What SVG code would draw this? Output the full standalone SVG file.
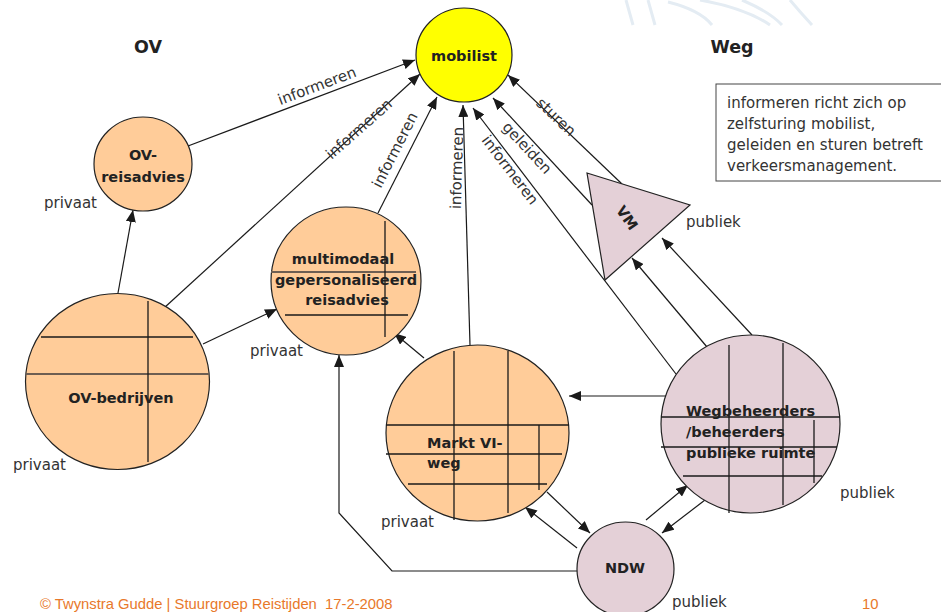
<svg xmlns="http://www.w3.org/2000/svg" width="941" height="612" viewBox="0 0 941 612">
<defs>
<marker id="ah" viewBox="0 0 12 10" refX="12" refY="5" markerWidth="12" markerHeight="10" markerUnits="userSpaceOnUse" orient="auto">
<path d="M0,0 L12,5 L0,10 z" fill="#1a1a1a"/>
</marker>
<style>
.or{fill:#FFCC99;stroke:#222;stroke-width:1.2}
.pk{fill:#E4D0D7;stroke:#222;stroke-width:1.2}
.yl{fill:#FFFF00;stroke:#222;stroke-width:1.2}
.gl{stroke:#1a1a1a;stroke-width:1.3;fill:none}
.gb{stroke:#6e5e52;stroke-width:2;fill:none}
.cn{stroke:#1a1a1a;stroke-width:1.2;fill:none;marker-end:url(#ah)}
.ln{stroke:#1a1a1a;stroke-width:1.2;fill:none}
.b{font-family:"DejaVu Sans",sans-serif;font-weight:bold;font-size:14.5px;fill:#222}
.h{font-family:"DejaVu Sans",sans-serif;font-weight:bold;font-size:17.5px;fill:#222}
.r{font-family:"DejaVu Sans",sans-serif;font-size:15px;fill:#333}
.lb{font-family:"DejaVu Sans",sans-serif;font-size:15px;fill:#333;dominant-baseline:central;text-anchor:middle}
.ft{font-family:"Liberation Sans",Arial,sans-serif;font-size:14.8px;fill:#E8782A;white-space:pre}
.bg{stroke:#e4ecf3;stroke-width:3;fill:none}
</style>
</defs>
<rect width="941" height="612" fill="#ffffff"/>
<g id="background">
<path class="bg" d="M626,0 L633,25 M648,0 L655,25 M668,2 Q700,10 712,25 M700,0 Q745,8 770,25 M742,0 Q770,12 782,25 M790,0 Q800,12 812,25"/>
</g>
<g id="headers">
<text class="h" x="148" y="53" text-anchor="middle">OV</text>
<text class="h" x="732" y="53" text-anchor="middle">Weg</text>
</g>
<g id="connectors">
<line class="cn" x1="188" y1="146" x2="415" y2="60"/>
<line class="cn" x1="164" y1="308" x2="420" y2="74"/>
<line class="cn" x1="378" y1="213" x2="437" y2="97"/>
<line class="cn" x1="470" y1="345" x2="463" y2="105"/>
<line class="cn" x1="676" y1="374" x2="473" y2="108"/>
<line class="cn" x1="592" y1="205" x2="493" y2="98"/>
<line class="cn" x1="622" y1="184" x2="508" y2="75"/>
<line class="cn" x1="118" y1="293" x2="133" y2="210"/>
<line class="cn" x1="203" y1="344" x2="277" y2="309"/>
<line class="cn" x1="424" y1="358" x2="394" y2="333"/>
<line class="cn" x1="666" y1="396" x2="569" y2="396"/>
<polyline class="cn" points="577,571 392,571 339,513 339,355"/>
<line class="cn" x1="547" y1="492" x2="590" y2="533"/>
<line class="cn" x1="577" y1="548" x2="525" y2="507"/>
<line class="cn" x1="646" y1="520" x2="688" y2="485"/>
<line class="cn" x1="705" y1="500" x2="662" y2="533"/>
<line class="cn" x1="707" y1="347" x2="632" y2="258"/>
<line class="cn" x1="752" y1="335" x2="662" y2="238"/>
<text class="lb" transform="translate(317,86) rotate(-20.8)">informeren</text>
<text class="lb" transform="translate(359,129) rotate(-41.5)">informeren</text>
<text class="lb" transform="translate(395,150) rotate(-63)">informeren</text>
<text class="lb" transform="translate(457,168) rotate(-88.3)">informeren</text>
<text class="lb" transform="translate(510,170) rotate(52.6)">informeren</text>
<text class="lb" transform="translate(527,148) rotate(47.2)">geleiden</text>
<text class="lb" transform="translate(556,117) rotate(43.5)">sturen</text>
</g>
<g id="mobilist">
<ellipse class="yl" cx="464" cy="55" rx="48" ry="47"/>
<text class="b" x="464" y="61" text-anchor="middle">mobilist</text>
</g>
<g id="ov-reisadvies">
<ellipse class="or" cx="143" cy="164" rx="49" ry="47"/>
<text class="b" x="143" y="160" text-anchor="middle">OV-</text>
<text class="b" x="143" y="182" text-anchor="middle">reisadvies</text>
</g>
<g id="ov-bedrijven">
<ellipse class="or" cx="117.5" cy="381.5" rx="92" ry="88"/>
<line class="gl" x1="41" y1="337" x2="193" y2="337"/>
<line class="gb" x1="26" y1="374" x2="209" y2="374"/>
<line class="gl" x1="148" y1="301" x2="148" y2="462"/>
<text class="b" x="121" y="403" text-anchor="middle">OV-bedrijven</text>
</g>
<g id="multimodaal">
<ellipse class="or" cx="346" cy="281" rx="75" ry="74"/>
<line class="gb" x1="271" y1="272" x2="416" y2="272"/>
<line class="gl" x1="285" y1="315" x2="408" y2="315"/>
<line class="gl" x1="385" y1="221" x2="385" y2="337"/>
<text class="b" x="343" y="264" text-anchor="middle">multimodaal</text>
<text class="b" x="346" y="285" text-anchor="middle">gepersonaliseerd</text>
<text class="b" x="347" y="305" text-anchor="middle">reisadvies</text>
</g>
<g id="markt-vi-weg">
<ellipse class="or" cx="477.5" cy="433" rx="91.5" ry="88"/>
<line class="gl" x1="454" y1="351" x2="454" y2="520"/>
<line class="gl" x1="508" y1="351" x2="508" y2="513"/>
<line class="gl" x1="539" y1="425" x2="539" y2="490"/>
<line class="gl" x1="386" y1="425" x2="569" y2="425"/>
<line class="gl" x1="386" y1="454" x2="562" y2="454"/>
<line class="gl" x1="408" y1="484" x2="547" y2="484"/>
<text class="b" x="427" y="448">Markt VI-</text>
<text class="b" x="427" y="468">weg</text>
</g>
<g id="wegbeheerders">
<ellipse class="pk" cx="750.5" cy="424" rx="89.5" ry="89"/>
<line class="gl" x1="729" y1="345" x2="729" y2="513"/>
<line class="gl" x1="783" y1="343" x2="783" y2="505"/>
<line class="gl" x1="814" y1="420" x2="814" y2="483"/>
<line class="gl" x1="661" y1="417" x2="840" y2="417"/>
<line class="gl" x1="661" y1="447" x2="837" y2="447"/>
<line class="gl" x1="683" y1="476" x2="822" y2="476"/>
<text class="b" x="686" y="416">Wegbeheerders</text>
<text class="b" x="686" y="437">/beheerders</text>
<text class="b" x="686" y="458">publieke ruimte</text>
</g>
<g id="vm">
<polygon class="pk" points="587,173 690,205 605,280"/>
<text class="b" transform="translate(627,218) rotate(55)" text-anchor="middle" dominant-baseline="central">VM</text>
</g>
<g id="ndw">
<ellipse class="pk" cx="625.5" cy="569" rx="48.5" ry="47"/>
<text class="b" x="625" y="573" text-anchor="middle">NDW</text>
</g>
<g id="note">
<rect x="716" y="84" width="226" height="97" fill="#fff" stroke="#444" stroke-width="1"/>
<text class="r" x="727" y="108">informeren richt zich op</text>
<text class="r" x="727" y="129">zelfsturing mobilist,</text>
<text class="r" x="727" y="150">geleiden en sturen betreft</text>
<text class="r" x="727" y="171">verkeersmanagement.</text>
</g>
<g id="labels">
<text class="r" x="44" y="208">privaat</text>
<text class="r" x="250" y="356">privaat</text>
<text class="r" x="13" y="470">privaat</text>
<text class="r" x="381" y="527">privaat</text>
<text class="r" x="686" y="227">publiek</text>
<text class="r" x="840" y="498">publiek</text>
<text class="r" x="672" y="607">publiek</text>
</g>
<g id="footer">
<text class="ft" x="40" y="609">© Twynstra Gudde | Stuurgroep Reistijden  17-2-2008</text>
<text class="ft" x="862" y="609">10</text>
</g>
</svg>
